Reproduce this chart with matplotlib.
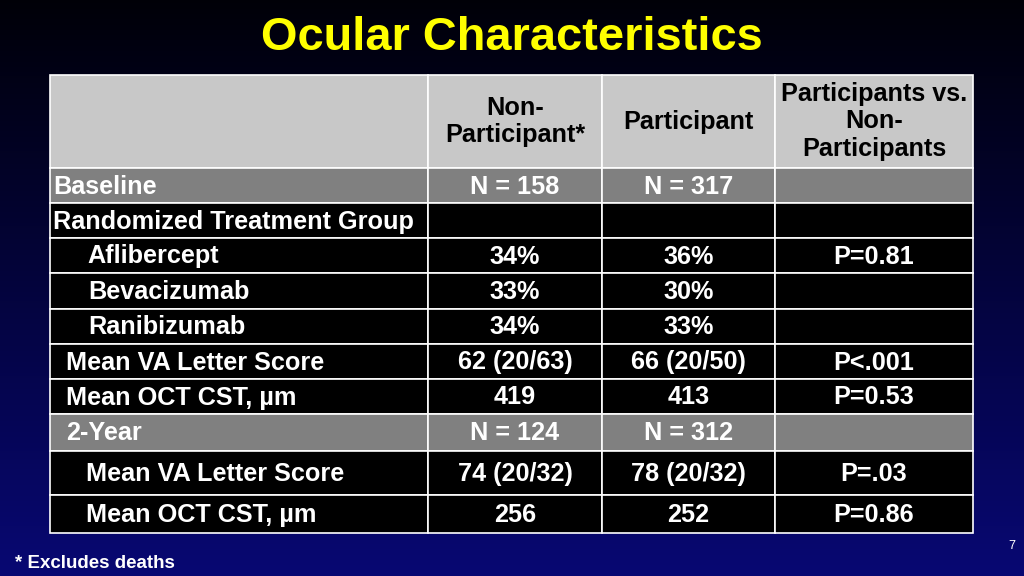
import matplotlib.pyplot as plt
import numpy as np
from matplotlib.patches import Rectangle

title = "Ocular Characteristics"
col_headers = ["", "Non-\nParticipant*", "Participant", "Participants vs.\nNon-\nParticipants"]
row_labels = ["Baseline", "Randomized Treatment Group", "Aflibercept", "Bevacizumab",
              "Ranibizumab", "Mean VA Letter Score", "Mean OCT CST, µm", "2-Year",
              "Mean VA Letter Score", "Mean OCT CST, µm"]
non_participant = ["N = 158", "", "34%", "33%", "34%", "62 (20/63)", "419", "N = 124", "74 (20/32)", "256"]
participant = ["N = 317", "", "36%", "30%", "33%", "66 (20/50)", "413", "N = 312", "78 (20/32)", "252"]
p_values = ["", "", "P=0.81", "", "", "P<.001", "P=0.53", "", "P=.03", "P=0.86"]
gray_rows = [0, 7]
indent = [0, 0, 34, 35, 35, 13, 13, 13, 33, 33]

fig = plt.figure(figsize=(10.24, 5.76), dpi=100)
ax = fig.add_axes([0, 0, 1, 1])
ax.set_xlim(0, 1024)
ax.set_ylim(576, 0)
ax.axis("off")

# background gradient
grad = np.linspace(0, 1, 256)[:, None]
top = np.array([0.0, 0.0, 0.03])
bot = np.array([0.03, 0.03, 0.45])
img = top + (bot - top) * grad[..., None]
img = np.repeat(img, 2, axis=1)
ax.imshow(img, extent=[0, 1024, 576, 0], aspect="auto", zorder=0)

ax.text(512, 38, title, color="#ffff00", fontsize=33.8, fontweight="bold",
        ha="center", va="center", family="Liberation Sans")

col_x = [50, 428, 602, 775, 973]
row_y = [75, 168, 203, 238, 273, 309, 344, 379, 414, 451, 495, 533]
font = dict(fontsize=18.2, fontweight="bold", family="Liberation Sans")

# header row
for c in range(4):
    ax.add_patch(Rectangle((col_x[c], row_y[0]), col_x[c + 1] - col_x[c], row_y[1] - row_y[0],
                           facecolor="#c8c8c8", edgecolor="white", lw=1.2, zorder=1))
    ax.text((col_x[c] + col_x[c + 1]) / 2, (row_y[0] + row_y[1]) / 2, col_headers[c],
            color="black", ha="center", va="center", linespacing=1.2, **font)

for r, lab in enumerate(row_labels):
    y0, y1 = row_y[r + 1], row_y[r + 2]
    fc = "#808080" if r in gray_rows else "black"
    for c in range(4):
        ax.add_patch(Rectangle((col_x[c], y0), col_x[c + 1] - col_x[c], y1 - y0,
                               facecolor=fc, edgecolor="white", lw=1.2, zorder=1))
    ym = (y0 + y1) / 2 + 1
    ax.text(col_x[0] + 3 + indent[r], ym, lab, color="white", ha="left", va="center", **font)
    for c, vals in zip([1, 2, 3], [non_participant, participant, p_values]):
        ax.text((col_x[c] + col_x[c + 1]) / 2, ym, vals[r], color="white",
                ha="center", va="center", **font)

ax.text(15, 563, "* Excludes deaths", color="white", ha="left", va="center",
        fontsize=13.5, fontweight="bold", family="Liberation Sans")
ax.text(1012, 546, "7", color="white", ha="center", va="center", fontsize=9,
        family="Liberation Sans")

fig.savefig("out.png", dpi=100)
